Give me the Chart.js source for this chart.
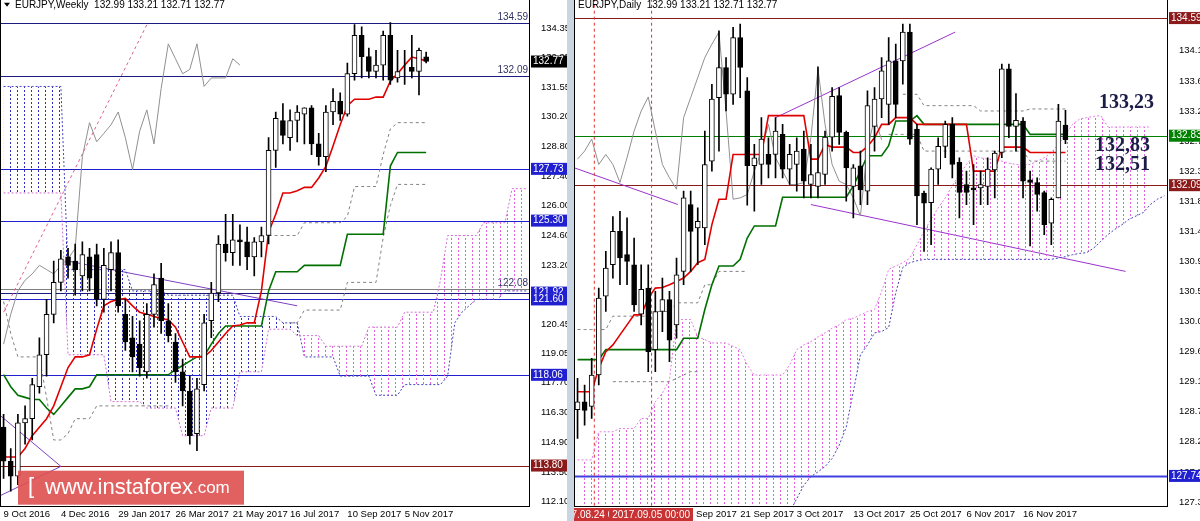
<!DOCTYPE html>
<html><head><meta charset="utf-8">
<script src="https://cdn.jsdelivr.net/npm/chart.js@4.4.1/dist/chart.umd.min.js"></script>
<style>
html,body{margin:0;padding:0;background:#fff;width:1200px;height:521px;overflow:hidden}
#w{position:absolute;left:0;top:-10px;width:567px;height:531px}
#d{position:absolute;left:574px;top:-10px;width:626px;height:531px}
#sep{position:absolute;left:567px;top:0;width:7px;height:521px;background:#c9d5e2}
</style></head><body>
<div id="w"><canvas id="cw"></canvas></div><div id="sep"></div><div id="d"><canvas id="cd"></canvas></div>
<script>
// ---------- WEEKLY DATA ----------
const weeklyTickText=['9 Oct 2016','4 Dec 2016','29 Jan 2017','26 Mar 2017','21 May 2017','16 Jul 2017','10 Sep 2017','5 Nov 2017'];
const weeklyYTicks=[134.35,132.95,131.55,130.20,128.80,127.40,126.00,124.60,123.20,121.80,120.45,119.05,117.70,116.30,114.90,113.50,112.10];
const wO=[115.6,114.0,113.3,115.8,116.0,117.5,119.0,120.9,122.4,123.6,123.4,122.7,123.6,123.7,121.6,123.0,123.8,120.9,119.8,119.5,118.2,120.9,122.6,120.6,119.6,118.2,117.3,115.3,117.6,120.6,121.9,124.2,123.8,124.4,124.3,123.6,124.3,124.6,128.6,130.0,129.2,130.0,130.3,130.6,128.9,128.3,130.4,130.9,130.3,132.2,134.0,133.0,132.3,132.6,134.0,132.0,132.4,132.5,132.3,132.99];
const wH=[116.2,114.6,116.2,116.6,117.9,119.8,121.6,123.4,123.9,124.0,124.2,124.3,124.0,124.2,124.0,124.3,124.4,121.6,120.8,120.6,121.4,122.8,123.3,121.4,120.0,118.8,118.0,117.9,120.9,122.4,124.6,125.6,125.6,125.1,125.0,124.5,125.0,129.2,130.4,130.8,130.5,130.7,130.6,130.7,129.4,130.7,131.5,131.3,132.7,134.5,134.4,133.4,133.3,134.2,134.6,133.3,133.3,134.0,133.4,133.21];
const wL=[113.2,112.6,112.9,114.8,115.0,117.2,118.0,120.5,122.0,122.6,121.8,122.0,122.0,121.3,121.0,122.0,121.0,119.2,118.2,118.0,117.9,120.3,120.0,119.6,117.7,116.6,114.8,114.5,117.3,119.8,121.5,123.4,123.2,123.2,123.0,122.7,123.6,124.2,127.8,128.9,128.6,129.0,128.9,128.4,127.9,127.6,129.8,130.0,130.2,131.9,132.0,132.0,132.0,131.9,131.7,131.8,131.7,132.0,131.2,132.71];
const wC=[114.0,113.3,115.8,116.0,117.6,119.0,120.9,122.4,123.5,123.2,123.0,123.7,122.6,121.6,123.2,123.8,121.3,119.6,118.9,118.4,120.9,122.3,120.6,119.9,118.2,117.3,115.2,117.4,120.5,121.9,124.2,123.8,124.4,124.3,123.6,124.3,124.6,128.6,130.1,129.3,130.0,130.4,130.6,128.9,128.3,130.4,130.9,130.3,132.2,134.0,133.0,132.3,132.6,134.0,131.9,132.3,132.4,132.3,133.3,132.77];
const wTenkan=[114.2,114.2,114.2,114.6,115.2,115.6,116.0,116.6,117.5,118.4,118.9,118.9,119.0,120.2,121.3,121.5,121.6,121.65,121.3,121.0,120.9,120.8,120.7,120.65,120.3,119.6,118.9,118.9,118.9,119.2,119.6,120.0,120.35,120.4,120.5,120.5,122.0,124.75,125.6,126.6,126.6,126.7,126.86,126.86,127.3,127.85,128.8,129.8,130.7,131.0,131.0,131.0,131.1,131.1,131.85,132.2,132.6,132.98,132.9,132.8];
const wKijun=[118.07,117.5,117.1,117.0,116.9,116.9,116.5,116.2,116.6,117.0,117.4,117.4,117.5,118.06,118.06,118.06,118.06,118.06,118.06,118.06,118.06,118.06,118.06,118.06,118.3,118.5,118.7,118.9,118.94,119.5,120.0,120.35,120.35,120.35,120.35,120.35,120.35,122.0,122.9,122.9,122.9,122.9,123.2,123.2,123.2,123.2,123.2,123.2,124.66,124.66,124.66,124.66,124.66,124.66,127.86,128.5,128.5,128.5,128.5,128.5];
const wChikou=[119.5,120.9,122.0,122.5,122.8,123.2,123.0,122.8,123.2,123.5,124.0,128.3,129.9,129.0,129.4,129.8,130.4,129.2,127.7,129.5,130.5,128.9,131.5,133.6,132.9,132.2,132.4,133.6,131.6,132.0,132.0,132.0,132.9,132.6];
const wSpanA=[126.6,126.6,126.6,126.6,126.6,126.6,126.6,126.6,126.6,119.0,119.0,119.0,119.0,119.0,119.0,116.8,116.8,116.8,116.8,116.8,116.5,116.5,116.5,116.5,116.5,115.2,115.2,115.2,115.2,116.5,116.5,116.5,116.5,118.2,118.2,118.2,118.2,120.2,120.2,120.2,120.2,119.9,119.9,119.9,119.9,119.4,119.4,119.4,119.4,119.4,119.4,120.3,120.3,120.3,120.3,120.3,121.0,121.0,121.0,121.0,121.0,122.5,124.6,124.6,124.6,124.6,124.6,125.2,125.2,125.2,125.2,126.8,126.8,126.8];
const wSpanB=[131.6,131.6,131.6,131.6,131.6,131.6,131.6,131.6,131.6,123.0,123.0,123.0,123.0,123.0,123.0,123.0,123.0,123.0,122.0,122.0,122.0,122.0,122.0,121.8,121.8,121.8,121.8,121.8,121.8,121.8,121.8,121.8,121.8,120.8,120.8,120.8,120.8,120.8,120.8,120.5,120.5,120.5,118.9,118.9,118.9,118.9,118.9,118.0,118.0,118.0,118.0,118.0,117.1,117.1,117.1,117.1,117.6,117.6,117.6,117.6,117.6,117.6,118.0,120.5,121.0,121.3,121.6,121.6,121.6,121.6,122.0,122.0,122.0,122.0];
const wDashUp=[null,null,null,null,null,null,null,null,null,null,null,null,null,null,null,null,null,null,null,null,null,null,null,null,null,null,null,null,null,null,null,null,null,null,null,null,null,124.6,124.6,124.6,124.6,124.6,125.2,125.2,125.2,125.2,125.2,125.2,125.5,126.9,126.9,126.9,126.9,128.4,129.6,129.9,129.9,129.9,129.9,129.9];
const wDashLow=[121.5,120.0,118.9,118.9,118.9,118.9,117.0,115.0,115.0,115.3,116.0,116.0,116.0,116.6,116.6,116.6,116.6,116.6,116.6,116.6,116.6,116.6,116.6,116.6,null,null,null,null,null,null,null,null,null,null,null,null,null,null,null,null,120.5,120.5,121.1,121.1,121.1,121.1,121.1,121.1,122.4,122.4,122.4,122.4,122.4,124.5,126.0,127.0,127.0,127.0,127.0,127.0];
const wLevels=[134.59,132.09,127.73,125.30,122.08,121.92,121.60,118.06,113.80];
const wLastPrice=132.77;

// ---------- DAILY DATA ----------
const dailyTickText={15:'11 Sep 2017',23:'21 Sep 2017',31:'3 Oct 2017',39:'13 Oct 2017',47:'25 Oct 2017',55:'6 Nov 2017',63:'16 Nov 2017'};
const dailyYTicks=[134.10,133.65,133.20,132.75,132.30,131.85,131.40,130.95,130.50,130.05,129.60,129.15,128.70,128.25,127.80,127.35];
const dO=[128.73,128.85,128.78,129.25,130.43,130.9,131.4,131.05,130.9,130.16,130.55,129.63,130.2,130.38,130.0,130.8,131.8,131.45,131.45,132.45,133.4,133.85,133.45,134.3,133.5,132.38,132.4,132.55,132.55,132.85,132.33,132.4,132.63,132.1,132.07,132.25,132.81,133.43,132.88,132.07,132.38,132.0,132.97,133.38,133.3,133.95,133.95,134.38,132.93,131.97,131.83,132.33,132.67,133.0,132.43,132.1,132.05,132.05,132.07,132.32,132.58,133.83,132.97,133.05,132.17,132.13,131.98,131.52,131.9,132.99];
const dH=[129.2,129.1,129.5,130.55,131.1,131.62,131.7,131.6,131.3,130.9,130.9,130.5,130.7,130.5,131.0,132.0,132.0,131.75,132.9,133.6,134.4,134.0,134.45,134.5,133.7,132.7,133.1,132.8,133.1,133.0,132.7,132.8,132.9,132.7,133.86,132.9,133.55,133.55,132.9,132.4,132.6,133.5,133.55,134.0,134.3,134.2,134.5,134.5,133.0,132.0,132.35,132.8,133.05,133.1,132.5,132.3,132.4,132.3,132.5,132.6,133.9,133.9,133.46,133.1,132.3,132.2,132.0,131.9,133.3,133.21];
const dL=[128.3,128.5,128.6,129.1,130.2,130.7,130.6,130.6,130.2,130.0,129.3,129.3,129.9,129.45,129.8,130.6,130.8,130.9,131.2,132.3,132.6,133.2,133.3,133.4,131.79,131.7,132.1,132.2,132.2,132.2,132.1,132.0,131.9,131.9,131.9,132.1,132.6,132.7,131.85,131.6,131.8,131.8,132.6,133.1,133.0,133.1,133.6,132.7,131.5,131.1,131.2,132.1,132.5,132.2,131.6,131.8,131.5,131.8,131.8,131.9,132.5,132.8,132.6,131.9,131.18,131.7,131.35,131.2,131.9,132.71];
const dC=[128.85,128.72,129.25,130.4,130.85,131.4,131.0,130.95,130.3,130.53,129.6,130.2,130.38,129.77,130.75,131.9,131.4,131.55,132.4,133.38,133.85,133.45,134.3,133.85,132.38,132.5,132.78,132.4,132.9,132.33,132.55,132.6,132.15,132.25,132.28,132.81,133.42,132.88,132.35,132.35,132.02,133.28,133.38,133.8,133.95,133.3,134.38,132.78,131.93,131.82,132.33,132.67,133.0,132.4,131.98,131.98,132.02,132.1,132.33,132.57,133.83,132.97,133.06,132.15,132.13,131.95,131.5,131.88,133.05,132.77];
const dTenkan=[129.0,129.0,129.0,129.35,129.6,129.7,129.85,130.0,130.15,130.15,130.4,130.55,130.56,130.6,130.65,130.7,130.8,130.93,130.98,131.5,131.88,131.88,132.55,132.55,132.55,132.55,132.55,133.13,133.13,133.13,133.13,133.13,133.13,132.48,132.48,132.7,132.66,132.66,132.66,132.58,132.58,132.67,132.8,133.0,133.0,133.1,133.1,133.1,133.0,133.0,133.0,133.0,133.0,133.0,133.0,133.0,132.3,132.3,132.3,132.3,132.66,132.66,132.66,132.66,132.58,132.58,132.58,132.58,132.58,132.58];
const dKijun=[129.48,129.48,129.48,129.48,129.63,129.63,129.63,129.63,129.63,129.63,129.63,129.63,129.63,129.63,129.63,129.8,129.8,129.8,130.23,130.6,130.88,130.88,130.88,130.98,131.3,131.48,131.48,131.48,131.48,131.91,131.91,131.91,131.91,131.91,131.91,131.91,131.91,131.91,131.91,132.08,132.3,132.53,132.53,132.53,132.68,133.05,133.05,133.05,133.13,133.0,133.0,133.0,133.0,133.0,133.0,133.0,133.0,133.0,133.0,133.0,133.0,133.0,133.0,133.0,132.85,132.85,132.85,132.85,132.85,132.85];
const dChikou=[132.48,132.6,132.78,132.4,132.55,132.4,132.13,132.5,132.9,133.2,133.41,132.9,132.4,132.2,132.03,133.1,133.4,133.7,134.0,134.2,134.38,133.2,131.88,131.9,131.95,132.3,132.6,133.0,132.5,132.3,132.1,132.1,132.13,132.8,133.83,133.0,132.4,132.15,132.1,131.9,131.63,132.63,133.1,132.77];
const dSpanA=[127.98,127.98,127.98,128.4,128.4,128.4,128.45,128.45,128.45,128.6,128.6,128.85,128.98,129.18,130.08,130.08,130.08,129.82,129.78,129.73,129.73,129.73,129.68,129.63,129.4,129.25,129.25,129.25,129.25,129.25,129.4,129.63,129.7,129.75,129.82,129.88,129.95,130.0,130.08,130.1,130.15,130.2,130.23,130.5,130.83,130.88,130.93,131.0,131.2,131.4,131.58,131.75,131.9,132.08,132.25,132.4,132.53,132.5,132.48,132.48,132.45,132.42,132.4,132.4,132.4,132.45,132.5,132.58,132.7,132.85,133.0,133.08,133.1,133.12,133.13,132.96,132.96,132.96,132.96,132.96,132.96,132.96,null,null];
const dSpanB=[127.0,127.0,127.0,127.0,127.0,127.0,127.0,127.0,127.0,127.0,127.0,127.0,127.0,127.0,127.0,127.0,127.0,127.0,127.0,127.0,127.0,127.0,127.0,127.0,127.0,127.0,127.0,127.0,127.0,127.0,127.2,127.4,127.6,127.73,127.8,127.88,128.0,128.2,128.47,129.0,129.55,129.7,129.88,129.9,129.96,130.48,130.86,130.93,130.96,130.98,130.98,130.98,130.98,130.98,130.98,130.98,130.98,130.98,130.98,130.98,130.98,130.98,130.98,130.98,130.98,130.98,130.98,130.98,131.0,131.02,131.05,131.07,131.08,131.15,131.25,131.35,131.43,131.5,131.58,131.63,131.68,131.8,131.88,131.93];
const dDash1=[null,null,null,null,null,null,null,null,null,null,null,null,null,null,null,null,null,null,null,null,null,null,null,null,null,null,null,null,null,null,null,null,null,null,null,null,null,null,null,null,null,null,null,null,null,null,133.45,133.45,133.45,133.28,133.28,133.28,133.28,133.28,133.28,133.28,133.28,133.2,133.2,133.2,133.2,133.2,133.2,133.2,133.23,133.23,133.23,133.23,133.23,133.23];
const dDash2=[129.93,129.93,129.93,129.93,129.93,130.13,130.13,130.13,130.13,130.13,130.13,130.2,130.2,130.2,130.33,130.33,130.33,130.33,130.6,130.6,130.8,130.8,130.8,130.8,130.8,null,null,null,null,null,null,null,null,null,null,null,null,null,null,null,null,null,null,null,132.85,132.85,132.85,132.85,132.85,132.6,132.6,132.6,132.6,132.6,132.6,132.6,132.6,132.6,132.6,132.6,132.6,132.6,132.6,132.6,132.45,132.45,132.45,132.45,132.45,132.45];
const dDash3=[null,null,null,null,null,129.15,129.15,129.15,129.15,129.15,129.15,129.15,129.15,129.15,129.2,129.25,129.3,129.3];
const dLevels=[134.59,132.83,132.09,127.74];

// ---------- helpers ----------
function pattern(color){const c=document.createElement('canvas');c.width=7;c.height=4;const x=c.getContext('2d');x.fillStyle=color;x.fillRect(3,0,1,2);return x.createPattern(c,'repeat');}
const pinkPat=pattern('#e060e0'), bluePat=pattern('#3030c0');
const FONT='"Liberation Sans", Arial, sans-serif';
Chart.defaults.font.family=FONT; Chart.defaults.font.size=9.5; Chart.defaults.color='#000';
Chart.defaults.animation=false;

function candleSets(O,H,L,C,bw){
  return [
    {type:'bar',data:H.map((h,i)=>[L[i],h]),backgroundColor:'#000',barThickness:1,grouped:false,order:0},
    {type:'bar',data:O.map((o,i)=>[o,C[i]]),backgroundColor:O.map((o,i)=>C[i]>=o?'#fff':'#000'),borderColor:'#000',borderWidth:1,borderSkipped:false,barThickness:bw,grouped:false,order:-1}
  ];
}
function line(data,color,w,dash,order){return {type:'line',data,borderColor:color,borderWidth:w,borderDash:dash||[],pointRadius:0,fill:false,spanGaps:false,order:order||1,tension:0};}

function overlay(cfg){
  return {id:'ov',
  beforeDatasetsDraw(ch){
    const c=ch.ctx,a=ch.chartArea,x=ch.scales.x,y=ch.scales.y;
    c.save();c.beginPath();c.rect(a.left,a.top,a.right-a.left,a.bottom-a.top);c.clip();
    cfg.levels.forEach(l=>{c.strokeStyle=l.color;c.lineWidth=l.w||1;c.setLineDash([]);const py=Math.round(y.getPixelForValue(l.v))+0.5;c.beginPath();c.moveTo(a.left,py);c.lineTo(a.right,py);c.stroke();
      if(l.inside){c.fillStyle='#333366';c.font='10px '+FONT;c.textAlign='right';c.textBaseline='bottom';c.fillText(l.inside,a.right-2,py-1);}});
    cfg.trends.forEach(t=>{c.strokeStyle=t.color;c.lineWidth=1;c.setLineDash(t.dash||[]);c.beginPath();c.moveTo(x.getPixelForValue(t.x1),y.getPixelForValue(t.y1));c.lineTo(x.getPixelForValue(t.x2),y.getPixelForValue(t.y2));c.stroke();});
    (cfg.vlines||[]).forEach(v=>{c.strokeStyle='#e03030';c.setLineDash([3,3]);const px=x.getPixelForValue(v)+0.5;c.beginPath();c.moveTo(px,a.top);c.lineTo(px,a.bottom);c.stroke();});
    c.restore();
  },
  afterDraw(ch){
    const c=ch.ctx,a=ch.chartArea,x=ch.scales.x,y=ch.scales.y;
    c.save();c.strokeStyle='#000';c.lineWidth=1;c.setLineDash([]);c.strokeRect(a.left+0.5,a.top+0.5,a.right-a.left-1,a.bottom-a.top);
    cfg.boxes.forEach(b=>{const py=y.getPixelForValue(b.v);c.fillStyle=b.color;c.fillRect(a.right+1,py-6,ch.width-a.right-1,12);c.fillStyle='#fff';c.font='10px '+FONT;c.textAlign='left';c.textBaseline='middle';c.fillText(b.v.toFixed(2),a.right+3,py);});
    const T=a.top;
    c.fillStyle='#000';c.font='10px '+FONT;c.textAlign='left';c.textBaseline='middle';
    if(cfg.tri){c.beginPath();c.moveTo(a.left+4,T+4);c.lineTo(a.left+10,T+4);c.lineTo(a.left+7,T+8);c.fill();}
    c.fillText(cfg.title,a.left+(cfg.tri?15:4),T+7);
    (cfg.xboxes||[]).forEach(b=>{const px=x.getPixelForValue(b.i);c.font='10px '+FONT;const w=c.measureText(b.t).width+6;c.fillStyle='#c83232';c.fillRect(px-w/2,a.bottom+2,w,13);c.fillStyle='#fff';c.textAlign='center';c.fillText(b.t,px,a.bottom+9);});
    (cfg.texts||[]).forEach(t=>{c.fillStyle='#1c1c48';c.font='bold 20px "Liberation Serif", serif';c.textAlign='left';c.textBaseline='middle';c.fillText(t.t,t.x,t.y+T);});
    if(cfg.watermark){const Y=T+472;c.fillStyle='rgba(222,80,80,0.9)';c.fillRect(18,Y,226,34);c.fillStyle='#fff';c.textBaseline='middle';c.textAlign='left';
      c.font='22px '+FONT;c.fillText('[',28,Y+16);c.fillText('www.instaforex',45,Y+17);const w=c.measureText('www.instaforex').width;c.font='17px '+FONT;c.fillText('.com',45+w,Y+18);c.font='22px '+FONT;c.fillText(']',45+w+c.measureText('.com').width+10,Y+16);}
    c.restore();
  }};
}

function makeChart(id,n,sets,ymin,ymax,yticks,xlabel,axisW,ov){
  return new Chart(document.getElementById(id),{
    data:{labels:Array.from({length:n},(_,i)=>i),datasets:sets},
    options:{responsive:false,maintainAspectRatio:false,devicePixelRatio:1,layout:{padding:0},
      plugins:{legend:{display:false},tooltip:{enabled:false}},
      scales:{
        x:{offset:true,grid:{display:false,drawTicks:false},border:{display:false},ticks:{autoSkip:false,maxRotation:0,padding:3,align:'start',callback:(v,i)=>xlabel(i)},afterFit:s=>{s.height=15;}},
        y:{position:'right',min:ymin,max:ymax,grid:{display:false},border:{display:false},ticks:{padding:3,callback:v=>Number(v).toFixed(2)},afterBuildTicks:s=>{s.ticks=yticks.map(v=>({value:v}));},afterFit:s=>{s.width=axisW;}}
      }},
    plugins:[ov]});
}
document.getElementById('cw').width=567;document.getElementById('cw').height=531;
document.getElementById('cd').width=626;document.getElementById('cd').height=531;

// weekly
const wSets=[...candleSets(wO,wH,wL,wC,5),
  line(wTenkan,'#e00000',1.6),line(wKijun,'#007000',1.6),line(wChikou,'#909090',1),
  line(wDashUp,'#808080',1,[3,3]),line(wDashLow,'#808080',1,[3,3]),
  Object.assign(line(wSpanA,'#d070d0',1,[2,2],5),{fill:{target:'+1',above:pinkPat,below:bluePat}}),
  line(wSpanB,'#4444bb',1,[2,2],5)];
makeChart('cw',74,wSets,111.9,135.72,weeklyYTicks,i=>i%8===0&&weeklyTickText[i/8]?weeklyTickText[i/8]:'',37,overlay({
  title:'EURJPY,Weekly  132.99 133.21 132.71 132.77',tri:true,watermark:true,
  levels:[{v:134.59,color:'#1a1a80',inside:'134.59'},{v:132.09,color:'#1a1a80',inside:'132.09'},{v:127.73,color:'#2020d0'},{v:125.30,color:'#2020d0'},{v:122.08,color:'#808080',inside:'122.08'},{v:121.92,color:'#1a1a80'},{v:121.60,color:'#2020d0'},{v:118.06,color:'#2020d0'},{v:113.80,color:'#8b1a1a'}],
  trends:[{x1:0,y1:121.0,x2:20,y2:134.5,color:'#e06090',dash:[3,3]},{x1:9,y1:123.4,x2:41,y2:121.3,color:'#8040c0'},{x1:-1,y1:116.3,x2:8,y2:113.76,color:'#8040c0'},{x1:-1,y1:112.3,x2:8,y2:113.76,color:'#8040c0'}],
  boxes:[{v:wLastPrice,color:'#000'},{v:127.73,color:'#2020d0'},{v:125.30,color:'#2020d0'},{v:121.92,color:'#2020d0'},{v:121.60,color:'#2020d0'},{v:118.06,color:'#2020d0'},{v:113.80,color:'#8b1a1a'}]
}));

// daily
const dSets=[...candleSets(dO,dH,dL,dC,5),
  line(dTenkan,'#e00000',1.6),line(dKijun,'#007000',1.6),line(dChikou,'#909090',1),
  line(dDash1,'#808080',1,[3,3]),line(dDash2,'#808080',1,[3,3]),line(dDash3,'#808080',1,[3,3]),
  Object.assign(line(dSpanA,'#e080e0',1,[2,2],5),{fill:{target:'+1',above:pinkPat,below:bluePat}}),
  line(dSpanB,'#4444bb',1,[2,2],5)];
makeChart('cd',84,dSets,127.29,134.88,dailyYTicks,i=>dailyTickText[i]||'',32,overlay({
  title:'EURJPY,Daily  132.99 133.21 132.71 132.77',
  levels:[{v:134.59,color:'#8b1a1a'},{v:132.83,color:'#008000'},{v:132.09,color:'#8b1a1a'},{v:127.74,color:'#4040e0',w:2}],
  trends:[{x1:28,y1:133.1,x2:53.4,y2:134.38,color:'#9933cc'},{x1:-1,y1:132.37,x2:14.2,y2:131.8,color:'#9933cc'},{x1:33,y1:131.8,x2:77.5,y2:130.8,color:'#9933cc'}],
  vlines:[2.3,10.4],
  xboxes:[{i:2.3,t:'2017.08.24 00:00'},{i:10.4,t:'2017.09.05 00:00'}],
  boxes:[{v:134.59,color:'#8b1a1a'},{v:132.83,color:'#008000'},{v:132.09,color:'#8b1a1a'},{v:127.74,color:'#2020d0'}],
  texts:[{t:'133,23',x:525,y:104},{t:'132,83',x:521,y:147},{t:'132,51',x:521,y:166}]
}));
</script></body></html>
